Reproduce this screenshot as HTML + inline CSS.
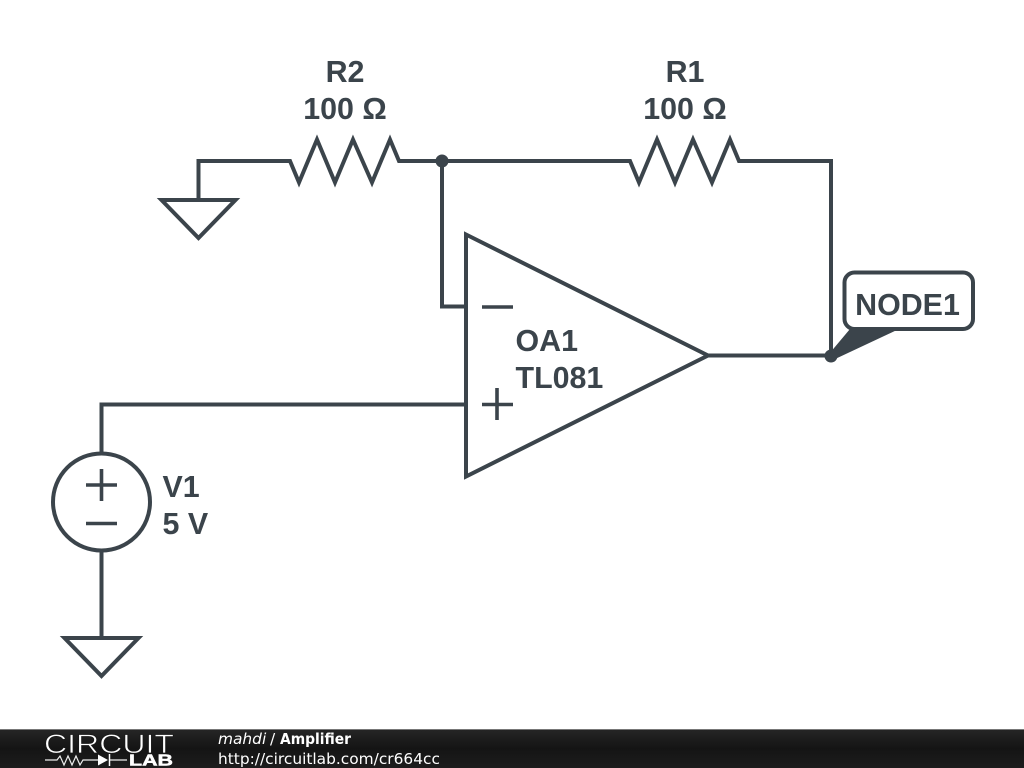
<!DOCTYPE html>
<html>
<head>
<meta charset="utf-8">
<style>
html,body{margin:0;padding:0;background:#fff;width:1024px;height:768px;overflow:hidden}
svg{display:block}
.l{font-family:"Liberation Sans",sans-serif;font-weight:700;font-size:30.4px;fill:#3b444b}
.f{font-family:"DejaVu Sans",sans-serif;font-size:15.4px;fill:#fff}
</style>
</head>
<body>
<svg width="1024" height="768" viewBox="0 0 1024 768" xmlns="http://www.w3.org/2000/svg">
<defs>
<linearGradient id="g" x1="0" y1="0" x2="0" y2="1">
<stop offset="0" stop-color="#262626"/><stop offset="0.5" stop-color="#141414"/><stop offset="1" stop-color="#1d1d1d"/>
</linearGradient>
</defs>
<rect width="1024" height="768" fill="#fff"/>
<g fill="none" stroke="#3b444b" stroke-width="4" stroke-linejoin="miter">
<!-- R2 branch and ground -->
<path d="M198.500 200V161H290L299 182.500L317 139.500L335 182.500L353 139.500L372 182.500L390 139.500L399 161H442"/>
<path d="M161.500 200H235.500L198.500 238Z"/>
<!-- R1 branch -->
<path d="M442 161H630L639 182.500L657 139.500L675 182.500L693 139.500L712 182.500L730 139.500L739 161H831V356"/>
<!-- feedback -->
<path d="M442 161V306.500H466"/>
<!-- op amp -->
<path d="M466 234.500L708 355.500L466 476.500Z"/>
<path d="M708 355.500H831"/>
<path d="M482 307H513" stroke-width="3.600"/>
<path d="M482 404.500H513M497 388V420" stroke-width="3.600"/>
<!-- V1 -->
<path d="M466 404.500H101.500V453"/>
<circle cx="101.500" cy="502" r="48.500"/>
<path d="M86 485H117M101.500 469V501" stroke-width="3.600"/>
<path d="M86 523.500H117" stroke-width="3.600"/>
<path d="M101.500 551V638"/>
<path d="M64.500 638H138.500L101.500 676Z"/>
<!-- node label -->
<rect x="844.500" y="272.500" width="128.500" height="56.500" rx="10"/>
</g>
<circle cx="442" cy="161" r="6.500" fill="#3b444b"/>
<circle cx="831" cy="356" r="6.500" fill="#3b444b"/>
<path d="M829 354L850 329H899L833 360Z" fill="#3b444b"/>
<text class="l" x="345" y="82" text-anchor="middle">R2</text>
<text class="l" x="345" y="119" text-anchor="middle">100 Ω</text>
<text class="l" x="685" y="82" text-anchor="middle">R1</text>
<text class="l" x="685" y="119" text-anchor="middle">100 Ω</text>
<text class="l" x="515.500" y="351">OA1</text>
<text class="l" x="515.500" y="388">TL081</text>
<text class="l" x="162.500" y="497">V1</text>
<text class="l" x="162.500" y="534">5 V</text>
<text class="l" x="907.500" y="315" text-anchor="middle">NODE1</text>
<!-- footer -->
<rect x="0" y="729" width="1024" height="39" fill="url(#g)"/>
<rect x="0" y="729" width="1024" height="1" fill="#777"/>
<text x="44" y="753" font-family="'Liberation Sans',sans-serif" font-size="27" fill="#fff" stroke="#181818" stroke-width="0.700" textLength="130" lengthAdjust="spacingAndGlyphs">CIRCUIT</text>
<path d="M45 760H57L60 756L64 765L68 756L72 765L76 756L80 765L83 760H98M109 760H127" fill="none" stroke="#eee" stroke-width="1.200"/>
<path d="M98 754.500V765.500L108 760Z" fill="#fff"/>
<path d="M109.500 754V766" stroke="#fff" stroke-width="1.500"/>
<text x="129" y="765.500" font-family="'Liberation Sans',sans-serif" font-weight="700" font-size="15.500" fill="#fff" stroke="#fff" stroke-width="0.500" textLength="44" lengthAdjust="spacingAndGlyphs">LAB</text>
<text class="f" x="218" y="744" font-style="italic">mahdi</text>
<text class="f" x="270" y="744">/</text>
<text class="f" x="280" y="744" font-weight="700" textLength="71" lengthAdjust="spacingAndGlyphs">Amplifier</text>
<text class="f" x="218" y="764">http://circuitlab.com/cr664cc</text>
</svg>
</body>
</html>
